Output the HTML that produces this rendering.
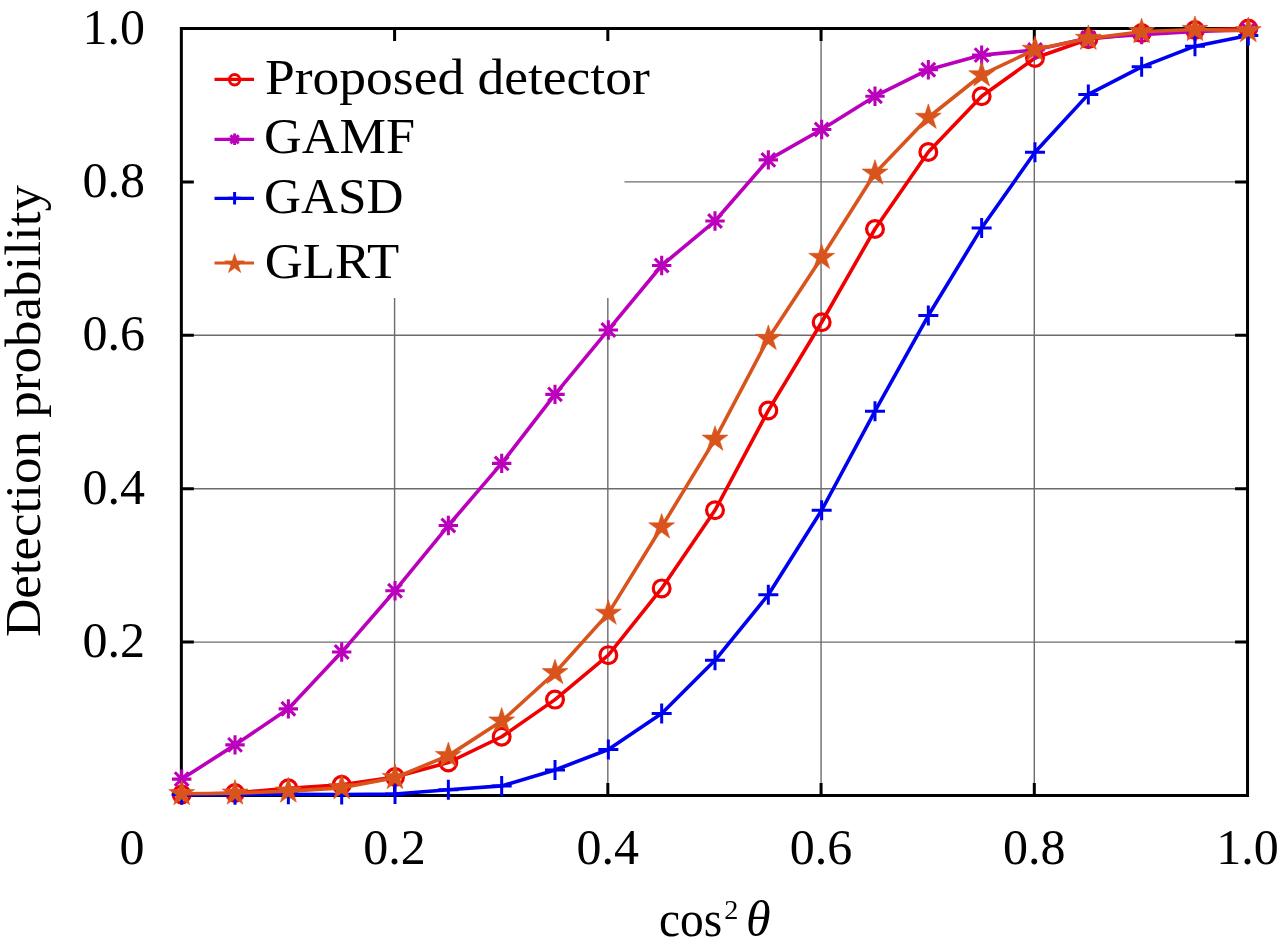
<!DOCTYPE html>
<html><head><meta charset="utf-8"><style>
html,body{margin:0;padding:0;background:#fff;width:1280px;height:951px;overflow:hidden}
svg{position:absolute;left:0;top:0;display:block;will-change:transform}
text{font-family:"Liberation Serif",serif;fill:#000}
</style></head><body>
<svg width="1280" height="951" viewBox="0 0 1280 951">
<rect x="0" y="0" width="1280" height="951" fill="#fff"/>

<g stroke="#6c6c6c" stroke-width="1.4">
<line x1="394.59" y1="298" x2="394.59" y2="795.50"/>
<line x1="607.83" y1="298" x2="607.83" y2="795.50"/>
<line x1="821.07" y1="28.50" x2="821.07" y2="795.50"/>
<line x1="1034.31" y1="28.50" x2="1034.31" y2="795.50"/>
<line x1="181.35" y1="642.10" x2="1247.55" y2="642.10"/>
<line x1="181.35" y1="488.70" x2="1247.55" y2="488.70"/>
<line x1="181.35" y1="335.30" x2="1247.55" y2="335.30"/>
<line x1="624.50" y1="181.90" x2="1247.55" y2="181.90"/>
</g>
<g stroke="#000" stroke-width="3" fill="none">
<rect x="181.35" y="28.50" width="1066.20" height="767.00"/>
<path d="M394.59 28.50V41.00M394.59 795.50V783.00M607.83 28.50V41.00M607.83 795.50V783.00M821.07 28.50V41.00M821.07 795.50V783.00M1034.31 28.50V41.00M1034.31 795.50V783.00M181.35 642.10H193.85M1247.55 642.10H1235.05M181.35 488.70H193.85M1247.55 488.70H1235.05M181.35 335.30H193.85M1247.55 335.30H1235.05M181.35 181.90H193.85M1247.55 181.90H1235.05"/>
</g>
<polyline points="181.70,794.50 235.03,792.97 288.36,788.37 341.69,784.76 395.02,777.09 448.35,762.52 501.68,736.75 555.01,699.62 608.34,655.14 661.67,588.41 715.00,510.25 768.33,410.47 821.66,322.26 874.99,228.99 928.32,151.99 981.65,96.23 1034.98,58.03 1088.31,39.24 1141.64,33.10 1194.97,30.03 1248.30,28.50" fill="none" stroke="#f00000" stroke-width="3.6" stroke-linejoin="round" stroke-linecap="butt"/>
<circle cx="181.70" cy="794.50" r="8.40" fill="none" stroke="#f00000" stroke-width="3.2"/>
<circle cx="235.03" cy="792.97" r="8.40" fill="none" stroke="#f00000" stroke-width="3.2"/>
<circle cx="288.36" cy="788.37" r="8.40" fill="none" stroke="#f00000" stroke-width="3.2"/>
<circle cx="341.69" cy="784.76" r="8.40" fill="none" stroke="#f00000" stroke-width="3.2"/>
<circle cx="395.02" cy="777.09" r="8.40" fill="none" stroke="#f00000" stroke-width="3.2"/>
<circle cx="448.35" cy="762.52" r="8.40" fill="none" stroke="#f00000" stroke-width="3.2"/>
<circle cx="501.68" cy="736.75" r="8.40" fill="none" stroke="#f00000" stroke-width="3.2"/>
<circle cx="555.01" cy="699.62" r="8.40" fill="none" stroke="#f00000" stroke-width="3.2"/>
<circle cx="608.34" cy="655.14" r="8.40" fill="none" stroke="#f00000" stroke-width="3.2"/>
<circle cx="661.67" cy="588.41" r="8.40" fill="none" stroke="#f00000" stroke-width="3.2"/>
<circle cx="715.00" cy="510.25" r="8.40" fill="none" stroke="#f00000" stroke-width="3.2"/>
<circle cx="768.33" cy="410.47" r="8.40" fill="none" stroke="#f00000" stroke-width="3.2"/>
<circle cx="821.66" cy="322.26" r="8.40" fill="none" stroke="#f00000" stroke-width="3.2"/>
<circle cx="874.99" cy="228.99" r="8.40" fill="none" stroke="#f00000" stroke-width="3.2"/>
<circle cx="928.32" cy="151.99" r="8.40" fill="none" stroke="#f00000" stroke-width="3.2"/>
<circle cx="981.65" cy="96.23" r="8.40" fill="none" stroke="#f00000" stroke-width="3.2"/>
<circle cx="1034.98" cy="58.03" r="8.40" fill="none" stroke="#f00000" stroke-width="3.2"/>
<circle cx="1088.31" cy="39.24" r="8.40" fill="none" stroke="#f00000" stroke-width="3.2"/>
<circle cx="1141.64" cy="33.10" r="8.40" fill="none" stroke="#f00000" stroke-width="3.2"/>
<circle cx="1194.97" cy="30.03" r="8.40" fill="none" stroke="#f00000" stroke-width="3.2"/>
<circle cx="1248.30" cy="28.50" r="8.40" fill="none" stroke="#f00000" stroke-width="3.2"/>
<polyline points="181.70,779.09 235.03,744.88 288.36,708.83 341.69,652.07 395.02,590.71 448.35,525.52 501.68,463.39 555.01,394.36 608.34,329.93 661.67,265.50 715.00,221.02 768.33,159.89 821.66,129.44 874.99,96.23 928.32,69.69 981.65,55.11 1034.98,49.98 1088.31,37.93 1141.64,34.64 1194.97,31.57 1248.30,30.03" fill="none" stroke="#bb00bb" stroke-width="3.6" stroke-linejoin="round" stroke-linecap="butt"/>
<path d="M172.00 779.09H191.40M181.70 769.39V788.79M174.84 772.23L188.56 785.95M174.84 785.95L188.56 772.23" stroke="#bb00bb" stroke-width="3.1" fill="none"/>
<path d="M225.33 744.88H244.73M235.03 735.18V754.58M228.17 738.02L241.89 751.74M228.17 751.74L241.89 738.02" stroke="#bb00bb" stroke-width="3.1" fill="none"/>
<path d="M278.66 708.83H298.06M288.36 699.13V718.53M281.50 701.97L295.22 715.69M281.50 715.69L295.22 701.97" stroke="#bb00bb" stroke-width="3.1" fill="none"/>
<path d="M331.99 652.07H351.39M341.69 642.37V661.77M334.83 645.21L348.55 658.93M334.83 658.93L348.55 645.21" stroke="#bb00bb" stroke-width="3.1" fill="none"/>
<path d="M385.32 590.71H404.72M395.02 581.01V600.41M388.16 583.85L401.88 597.57M388.16 597.57L401.88 583.85" stroke="#bb00bb" stroke-width="3.1" fill="none"/>
<path d="M438.65 525.52H458.05M448.35 515.82V535.22M441.49 518.66L455.21 532.37M441.49 532.37L455.21 518.66" stroke="#bb00bb" stroke-width="3.1" fill="none"/>
<path d="M491.98 463.39H511.38M501.68 453.69V473.09M494.82 456.53L508.54 470.25M494.82 470.25L508.54 456.53" stroke="#bb00bb" stroke-width="3.1" fill="none"/>
<path d="M545.31 394.36H564.71M555.01 384.66V404.06M548.15 387.50L561.87 401.22M548.15 401.22L561.87 387.50" stroke="#bb00bb" stroke-width="3.1" fill="none"/>
<path d="M598.64 329.93H618.04M608.34 320.23V339.63M601.48 323.07L615.20 336.79M601.48 336.79L615.20 323.07" stroke="#bb00bb" stroke-width="3.1" fill="none"/>
<path d="M651.97 265.50H671.37M661.67 255.80V275.20M654.81 258.64L668.53 272.36M654.81 272.36L668.53 258.64" stroke="#bb00bb" stroke-width="3.1" fill="none"/>
<path d="M705.30 221.02H724.70M715.00 211.32V230.72M708.14 214.16L721.86 227.88M708.14 227.88L721.86 214.16" stroke="#bb00bb" stroke-width="3.1" fill="none"/>
<path d="M758.63 159.89H778.03M768.33 150.19V169.59M761.47 153.03L775.19 166.75M761.47 166.75L775.19 153.03" stroke="#bb00bb" stroke-width="3.1" fill="none"/>
<path d="M811.96 129.44H831.36M821.66 119.74V139.14M814.80 122.58L828.52 136.30M814.80 136.30L828.52 122.58" stroke="#bb00bb" stroke-width="3.1" fill="none"/>
<path d="M865.29 96.23H884.69M874.99 86.53V105.93M868.13 89.37L881.85 103.08M868.13 103.08L881.85 89.37" stroke="#bb00bb" stroke-width="3.1" fill="none"/>
<path d="M918.62 69.69H938.02M928.32 59.99V79.39M921.46 62.83L935.18 76.55M921.46 76.55L935.18 62.83" stroke="#bb00bb" stroke-width="3.1" fill="none"/>
<path d="M971.95 55.11H991.35M981.65 45.41V64.81M974.79 48.26L988.51 61.97M974.79 61.97L988.51 48.26" stroke="#bb00bb" stroke-width="3.1" fill="none"/>
<path d="M1025.28 49.98H1044.68M1034.98 40.28V59.68M1028.12 43.12L1041.84 56.83M1028.12 56.83L1041.84 43.12" stroke="#bb00bb" stroke-width="3.1" fill="none"/>
<path d="M1078.61 37.93H1098.01M1088.31 28.23V47.63M1081.45 31.08L1095.17 44.79M1081.45 44.79L1095.17 31.08" stroke="#bb00bb" stroke-width="3.1" fill="none"/>
<path d="M1131.94 34.64H1151.34M1141.64 24.94V44.34M1134.78 27.78L1148.50 41.49M1134.78 41.49L1148.50 27.78" stroke="#bb00bb" stroke-width="3.1" fill="none"/>
<path d="M1185.27 31.57H1204.67M1194.97 21.87V41.27M1188.11 24.71L1201.83 38.43M1188.11 38.43L1201.83 24.71" stroke="#bb00bb" stroke-width="3.1" fill="none"/>
<path d="M1238.60 30.03H1258.00M1248.30 20.33V39.73M1241.44 23.18L1255.16 36.89M1241.44 36.89L1255.16 23.18" stroke="#bb00bb" stroke-width="3.1" fill="none"/>
<polyline points="181.70,794.73 235.03,794.73 288.36,794.27 341.69,794.50 395.02,793.97 448.35,789.82 501.68,785.91 555.01,769.96 608.34,749.48 661.67,713.43 715.00,660.28 768.33,594.70 821.66,510.25 874.99,411.16 928.32,315.51 981.65,227.92 1034.98,152.29 1088.31,94.39 1141.64,66.85 1194.97,46.14 1248.30,35.40" fill="none" stroke="#0000f0" stroke-width="3.6" stroke-linejoin="round" stroke-linecap="butt"/>
<path d="M171.70 794.73H191.70M181.70 784.73V804.73" stroke="#0000f0" stroke-width="3.0" fill="none"/>
<path d="M225.03 794.73H245.03M235.03 784.73V804.73" stroke="#0000f0" stroke-width="3.0" fill="none"/>
<path d="M278.36 794.27H298.36M288.36 784.27V804.27" stroke="#0000f0" stroke-width="3.0" fill="none"/>
<path d="M331.69 794.50H351.69M341.69 784.50V804.50" stroke="#0000f0" stroke-width="3.0" fill="none"/>
<path d="M385.02 793.97H405.02M395.02 783.97V803.97" stroke="#0000f0" stroke-width="3.0" fill="none"/>
<path d="M438.35 789.82H458.35M448.35 779.82V799.82" stroke="#0000f0" stroke-width="3.0" fill="none"/>
<path d="M491.68 785.91H511.68M501.68 775.91V795.91" stroke="#0000f0" stroke-width="3.0" fill="none"/>
<path d="M545.01 769.96H565.01M555.01 759.96V779.96" stroke="#0000f0" stroke-width="3.0" fill="none"/>
<path d="M598.34 749.48H618.34M608.34 739.48V759.48" stroke="#0000f0" stroke-width="3.0" fill="none"/>
<path d="M651.67 713.43H671.67M661.67 703.43V723.43" stroke="#0000f0" stroke-width="3.0" fill="none"/>
<path d="M705.00 660.28H725.00M715.00 650.28V670.28" stroke="#0000f0" stroke-width="3.0" fill="none"/>
<path d="M758.33 594.70H778.33M768.33 584.70V604.70" stroke="#0000f0" stroke-width="3.0" fill="none"/>
<path d="M811.66 510.25H831.66M821.66 500.25V520.25" stroke="#0000f0" stroke-width="3.0" fill="none"/>
<path d="M864.99 411.16H884.99M874.99 401.16V421.16" stroke="#0000f0" stroke-width="3.0" fill="none"/>
<path d="M918.32 315.51H938.32M928.32 305.51V325.51" stroke="#0000f0" stroke-width="3.0" fill="none"/>
<path d="M971.65 227.92H991.65M981.65 217.92V237.92" stroke="#0000f0" stroke-width="3.0" fill="none"/>
<path d="M1024.98 152.29H1044.98M1034.98 142.29V162.29" stroke="#0000f0" stroke-width="3.0" fill="none"/>
<path d="M1078.31 94.39H1098.31M1088.31 84.39V104.39" stroke="#0000f0" stroke-width="3.0" fill="none"/>
<path d="M1131.64 66.85H1151.64M1141.64 56.85V76.85" stroke="#0000f0" stroke-width="3.0" fill="none"/>
<path d="M1184.97 46.14H1204.97M1194.97 36.14V56.14" stroke="#0000f0" stroke-width="3.0" fill="none"/>
<path d="M1238.30 35.40H1258.30M1248.30 25.40V45.40" stroke="#0000f0" stroke-width="3.0" fill="none"/>
<polyline points="181.70,793.74 235.03,793.20 288.36,791.13 341.69,787.83 395.02,777.63 448.35,755.62 501.68,721.10 555.01,672.78 608.34,613.34 661.67,527.05 715.00,439.31 768.33,338.52 821.66,257.53 874.99,173.23 928.32,117.47 981.65,74.98 1034.98,49.52 1088.31,38.47 1141.64,31.72 1194.97,29.57 1248.30,30.80" fill="none" stroke="#d9541c" stroke-width="3.6" stroke-linejoin="round" stroke-linecap="butt"/>
<polygon points="181.70,780.14 184.75,789.53 194.63,789.53 186.64,795.34 189.69,804.74 181.70,798.93 173.71,804.74 176.76,795.34 168.77,789.53 178.65,789.53" fill="#d9541c" stroke="#d9541c" stroke-width="0.6"/>
<polygon points="235.03,779.60 238.08,789.00 247.96,789.00 239.97,794.80 243.02,804.20 235.03,798.39 227.04,804.20 230.09,794.80 222.10,789.00 231.98,789.00" fill="#d9541c" stroke="#d9541c" stroke-width="0.6"/>
<polygon points="288.36,777.53 291.41,786.93 301.29,786.93 293.30,792.73 296.35,802.13 288.36,796.32 280.37,802.13 283.42,792.73 275.43,786.93 285.31,786.93" fill="#d9541c" stroke="#d9541c" stroke-width="0.6"/>
<polygon points="341.69,774.23 344.74,783.63 354.62,783.63 346.63,789.44 349.68,798.83 341.69,793.03 333.70,798.83 336.75,789.44 328.76,783.63 338.64,783.63" fill="#d9541c" stroke="#d9541c" stroke-width="0.6"/>
<polygon points="395.02,764.03 398.07,773.43 407.95,773.43 399.96,779.23 403.01,788.63 395.02,782.82 387.03,788.63 390.08,779.23 382.09,773.43 391.97,773.43" fill="#d9541c" stroke="#d9541c" stroke-width="0.6"/>
<polygon points="448.35,742.02 451.40,751.41 461.28,751.41 453.29,757.22 456.34,766.62 448.35,760.81 440.36,766.62 443.41,757.22 435.42,751.41 445.30,751.41" fill="#d9541c" stroke="#d9541c" stroke-width="0.6"/>
<polygon points="501.68,707.50 504.73,716.90 514.61,716.90 506.62,722.71 509.67,732.10 501.68,726.30 493.69,732.10 496.74,722.71 488.75,716.90 498.63,716.90" fill="#d9541c" stroke="#d9541c" stroke-width="0.6"/>
<polygon points="555.01,659.18 558.06,668.58 567.94,668.58 559.95,674.39 563.00,683.78 555.01,677.98 547.02,683.78 550.07,674.39 542.08,668.58 551.96,668.58" fill="#d9541c" stroke="#d9541c" stroke-width="0.6"/>
<polygon points="608.34,599.74 611.39,609.13 621.27,609.13 613.28,614.94 616.33,624.34 608.34,618.53 600.35,624.34 603.40,614.94 595.41,609.13 605.29,609.13" fill="#d9541c" stroke="#d9541c" stroke-width="0.6"/>
<polygon points="661.67,513.45 664.72,522.85 674.60,522.85 666.61,528.66 669.66,538.05 661.67,532.25 653.68,538.05 656.73,528.66 648.74,522.85 658.62,522.85" fill="#d9541c" stroke="#d9541c" stroke-width="0.6"/>
<polygon points="715.00,425.71 718.05,435.10 727.93,435.10 719.94,440.91 722.99,450.31 715.00,444.50 707.01,450.31 710.06,440.91 702.07,435.10 711.95,435.10" fill="#d9541c" stroke="#d9541c" stroke-width="0.6"/>
<polygon points="768.33,324.92 771.38,334.32 781.26,334.32 773.27,340.13 776.32,349.52 768.33,343.72 760.34,349.52 763.39,340.13 755.40,334.32 765.28,334.32" fill="#d9541c" stroke="#d9541c" stroke-width="0.6"/>
<polygon points="821.66,243.93 824.71,253.32 834.59,253.32 826.60,259.13 829.65,268.53 821.66,262.72 813.67,268.53 816.72,259.13 808.73,253.32 818.61,253.32" fill="#d9541c" stroke="#d9541c" stroke-width="0.6"/>
<polygon points="874.99,159.63 878.04,169.03 887.92,169.03 879.93,174.84 882.98,184.24 874.99,178.43 867.00,184.24 870.05,174.84 862.06,169.03 871.94,169.03" fill="#d9541c" stroke="#d9541c" stroke-width="0.6"/>
<polygon points="928.32,103.87 931.37,113.27 941.25,113.27 933.26,119.08 936.31,128.47 928.32,122.67 920.33,128.47 923.38,119.08 915.39,113.27 925.27,113.27" fill="#d9541c" stroke="#d9541c" stroke-width="0.6"/>
<polygon points="981.65,61.38 984.70,70.78 994.58,70.78 986.59,76.59 989.64,85.98 981.65,80.18 973.66,85.98 976.71,76.59 968.72,70.78 978.60,70.78" fill="#d9541c" stroke="#d9541c" stroke-width="0.6"/>
<polygon points="1034.98,35.92 1038.03,45.31 1047.91,45.31 1039.92,51.12 1042.97,60.52 1034.98,54.71 1026.99,60.52 1030.04,51.12 1022.05,45.31 1031.93,45.31" fill="#d9541c" stroke="#d9541c" stroke-width="0.6"/>
<polygon points="1088.31,24.87 1091.36,34.27 1101.24,34.27 1093.25,40.08 1096.30,49.47 1088.31,43.67 1080.32,49.47 1083.37,40.08 1075.38,34.27 1085.26,34.27" fill="#d9541c" stroke="#d9541c" stroke-width="0.6"/>
<polygon points="1141.64,18.12 1144.69,27.52 1154.57,27.52 1146.58,33.33 1149.63,42.72 1141.64,36.92 1133.65,42.72 1136.70,33.33 1128.71,27.52 1138.59,27.52" fill="#d9541c" stroke="#d9541c" stroke-width="0.6"/>
<polygon points="1194.97,15.97 1198.02,25.37 1207.90,25.37 1199.91,31.18 1202.96,40.58 1194.97,34.77 1186.98,40.58 1190.03,31.18 1182.04,25.37 1191.92,25.37" fill="#d9541c" stroke="#d9541c" stroke-width="0.6"/>
<polygon points="1248.30,17.20 1251.35,26.60 1261.23,26.60 1253.24,32.41 1256.29,41.80 1248.30,36.00 1240.31,41.80 1243.36,32.41 1235.37,26.60 1245.25,26.60" fill="#d9541c" stroke="#d9541c" stroke-width="0.6"/>
<line x1="214.50" y1="79.30" x2="254.00" y2="79.30" stroke="#f00000" stroke-width="3.2"/>
<circle cx="234.60" cy="79.80" r="5.20" fill="none" stroke="#f00000" stroke-width="3.0"/>
<text x="265.00" y="94.10" font-size="50" textLength="384.8" lengthAdjust="spacingAndGlyphs">Proposed detector</text>
<line x1="214.50" y1="139.30" x2="254.00" y2="139.30" stroke="#bb00bb" stroke-width="3.2"/>
<path d="M228.80 139.30H240.40M234.60 133.50V145.10M230.50 135.20L238.70 143.40M230.50 143.40L238.70 135.20" stroke="#bb00bb" stroke-width="2.9" fill="none"/>
<text x="264.00" y="153.10" font-size="50" textLength="151.0" lengthAdjust="spacingAndGlyphs">GAMF</text>
<line x1="214.50" y1="198.30" x2="254.00" y2="198.30" stroke="#0000f0" stroke-width="3.2"/>
<path d="M228.30 198.30H240.90M234.60 192.00V204.60" stroke="#0000f0" stroke-width="3.0" fill="none"/>
<text x="264.00" y="213.10" font-size="50" textLength="139.4" lengthAdjust="spacingAndGlyphs">GASD</text>
<line x1="214.50" y1="263.00" x2="254.00" y2="263.00" stroke="#d9541c" stroke-width="3.2"/>
<polygon points="234.60,253.70 236.94,260.89 244.49,260.89 238.38,265.33 240.71,272.51 234.60,268.07 228.49,272.51 230.82,265.33 224.71,260.89 232.26,260.89" fill="#d9541c" stroke="#d9541c" stroke-width="0.6"/>
<text x="264.80" y="278.00" font-size="50" textLength="134.5" lengthAdjust="spacingAndGlyphs">GLRT</text>
<text x="145" y="43.50" font-size="50" text-anchor="end">1.0</text>
<text x="145" y="196.90" font-size="50" text-anchor="end">0.8</text>
<text x="145" y="350.30" font-size="50" text-anchor="end">0.6</text>
<text x="145" y="503.70" font-size="50" text-anchor="end">0.4</text>
<text x="145" y="657.10" font-size="50" text-anchor="end">0.2</text>
<text x="131.9" y="863.6" font-size="50" text-anchor="middle">0</text>
<text x="394.59" y="863.6" font-size="50" text-anchor="middle">0.2</text>
<text x="607.83" y="863.6" font-size="50" text-anchor="middle">0.4</text>
<text x="821.07" y="863.6" font-size="50" text-anchor="middle">0.6</text>
<text x="1034.31" y="863.6" font-size="50" text-anchor="middle">0.8</text>
<text x="1247.55" y="863.6" font-size="50" text-anchor="middle">1.0</text>
<text transform="translate(40.3,637) rotate(-90)" x="0" y="0" font-size="50" textLength="452" lengthAdjust="spacingAndGlyphs">Detection probability</text>
<text x="659" y="935.5" font-size="50" textLength="63.2" lengthAdjust="spacingAndGlyphs">cos</text>
<text transform="translate(724.3,918.7) scale(0.565)" font-size="50">2</text>
<text x="746" y="935.5" font-size="50" font-style="italic">θ</text>
</svg></body></html>
